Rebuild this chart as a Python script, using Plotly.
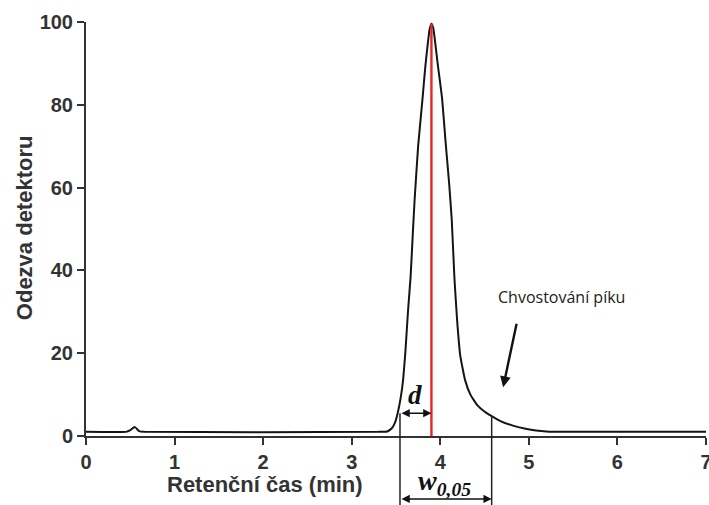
import plotly.graph_objects as go

# ---- data ----
time_min = [0.00, 0.45, 0.50, 0.55, 0.60, 0.66, 3.30, 3.40, 3.45, 3.49, 3.52, 3.555,
            3.58, 3.605, 3.635, 3.665, 3.69, 3.71, 3.75, 3.80, 3.83, 3.86, 3.88, 3.90,
            3.92, 3.94, 3.97, 4.02, 4.06, 4.10, 4.13, 4.16, 4.19, 4.225, 4.28, 4.34,
            4.42, 4.52, 4.58, 4.68, 4.82, 4.95, 5.08, 5.20, 5.35, 7.00]
response = [1.0, 1.0, 1.4, 2.2, 1.2, 1.0, 1.0, 1.1, 1.8, 3.3, 5.6, 9.5,
            13.5, 20.0, 30.0, 38.5, 49.0, 57.0, 70.0, 81.6, 89.0, 95.0, 98.3, 99.6,
            98.6, 95.5, 90.0, 81.6, 71.0, 61.0, 52.0, 38.0, 28.0, 19.5, 13.5, 10.0,
            7.4, 5.6, 4.8, 3.6, 2.5, 1.8, 1.35, 1.1, 1.0, 1.0]

peak_time = 3.90          # retention time (red line)
peak_height = 99.6
w_left = 3.545            # left boundary of w0,05
w_right = 4.58            # right boundary of w0,05
d_level = 5.5             # height of the d arrow
w_right_top = 4.8         # curve height at right boundary

x_ticks = [0, 1, 2, 3, 4, 5, 6, 7]
y_ticks = [0, 20, 40, 60, 80, 100]
x_range = [0, 7]
y_range = [0, 100]

tail_note = "Chvostování píku"
note_pos = (5.37, 33.5)
note_arrow_tail = (4.865, 27.5)
note_arrow_head = (4.71, 11.8)

def to_paper_y(v):
    return (v - y_range[0]) / (y_range[1] - y_range[0])

fig = go.Figure()
fig.add_trace(go.Scatter(x=time_min, y=response, mode="lines",
                         line=dict(color="#151515", width=2, shape="spline", smoothing=0.4),
                         hoverinfo="skip", showlegend=False))
fig.add_trace(go.Scatter(x=[peak_time, peak_time], y=[0, peak_height], mode="lines",
                         line=dict(color="#e8262a", width=2.4),
                         hoverinfo="skip", showlegend=False))

# vertical boundaries of w0,05 (extend below the axis)
bottom_paper = -0.17
for xv, top in [(w_left, d_level), (w_right, w_right_top)]:
    fig.add_shape(type="line", xref="x", yref="paper", x0=xv, x1=xv,
                  y0=bottom_paper, y1=to_paper_y(top),
                  line=dict(color="#222222", width=1.5))

# d double arrow
fig.add_annotation(x=peak_time, y=d_level, ax=w_left, ay=d_level, axref="x", ayref="y",
                   xref="x", yref="y", text="", showarrow=True, arrowside="end+start",
                   arrowhead=2, arrowsize=1.1, arrowwidth=1.5, arrowcolor="#111",
                   standoff=0, startstandoff=0)
fig.add_annotation(x=3.72, y=9.9, xref="x", yref="y", text="<b><i>d</i></b>",
                   showarrow=False,
                   font=dict(family="Liberation Serif, Times New Roman, serif", size=27, color="#111"))

# w0,05 double arrow below the axis
w_arrow_y = -0.152
fig.add_annotation(x=w_right, y=w_arrow_y, ax=w_left, ay=0, axref="x", ayref="pixel",
                   xref="x", yref="paper", text="", showarrow=True, arrowside="end+start",
                   arrowhead=2, arrowsize=1.1, arrowwidth=1.5, arrowcolor="#111",
                   standoff=0, startstandoff=0)
fig.add_annotation(x=4.05, y=-0.113, xref="x", yref="paper", xanchor="center", yanchor="middle",
                   text="<b><i>w<sub>0,05</sub></i></b>", showarrow=False,
                   font=dict(family="Liberation Serif, Times New Roman, serif", size=28, color="#111"))

# tailing note
fig.add_annotation(x=note_pos[0], y=note_pos[1], xref="x", yref="y", text=tail_note,
                   showarrow=False,
                   font=dict(family="Open Sans, sans-serif", size=16, color="#222"))
fig.add_annotation(x=note_arrow_head[0], y=note_arrow_head[1], ax=note_arrow_tail[0],
                   ay=note_arrow_tail[1], axref="x", ayref="y", xref="x", yref="y",
                   text="", showarrow=True, arrowhead=2, arrowsize=0.9, arrowwidth=2.4,
                   arrowcolor="#111", standoff=0)

# axis titles
title_font = dict(family="Liberation Sans, Arial, sans-serif", size=22, color="#333")
fig.add_annotation(x=-0.100, y=0.502, xref="paper", yref="paper", xanchor="center",
                   yanchor="middle", text="<b>Odezva detektoru</b>",
                   textangle=-90, showarrow=False, font=title_font)
fig.add_annotation(x=0.289, y=-0.116, xref="paper", yref="paper", xanchor="center",
                   yanchor="middle", text="<b>Retenční čas (min)</b>",
                   showarrow=False, font=title_font)

tick_font = dict(family="Liberation Sans, Arial, sans-serif", size=20, color="#333", weight="bold")
common = dict(showgrid=False, zeroline=False, showline=True, linecolor="#333", linewidth=2,
              ticks="outside", tickwidth=2, tickcolor="#333", tickfont=tick_font,
              automargin=False, ticklabeloverflow="allow")
fig.update_xaxes(range=x_range, tickvals=x_ticks, ticktext=[str(t) for t in x_ticks],
                 ticklen=7, **common)
fig.update_yaxes(range=y_range, tickvals=y_ticks, ticktext=[str(t) for t in y_ticks],
                 ticklen=7, **common)

fig.update_layout(width=709, height=505,
                  margin=dict(l=86, r=3, t=22, b=69, autoexpand=False),
                  plot_bgcolor="white", paper_bgcolor="white", showlegend=False)

fig.write_html("out.html", config={"displayModeBar": False},
               post_script="document.body.style.margin='0px';")
